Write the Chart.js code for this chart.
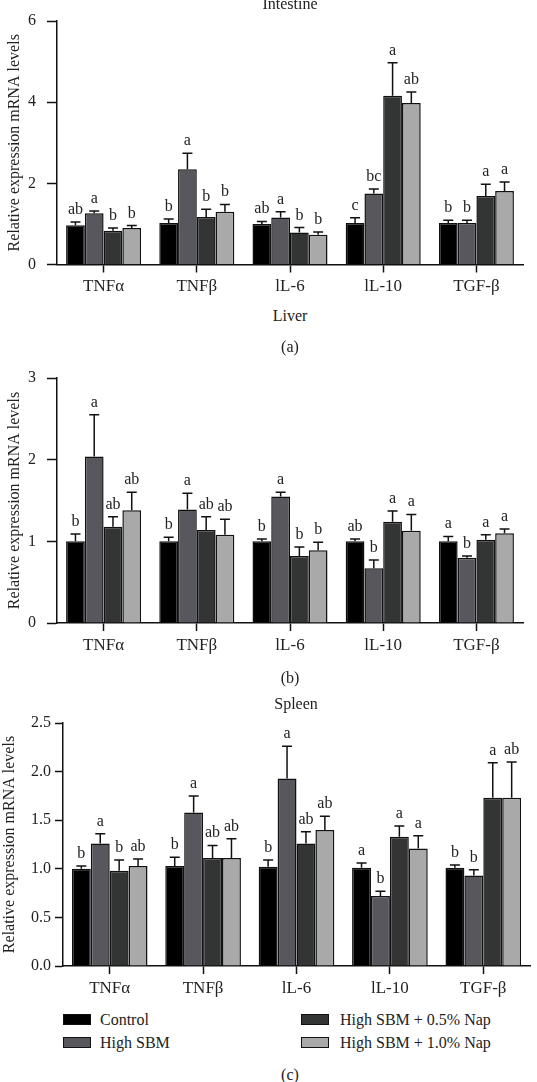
<!DOCTYPE html>
<html><head><meta charset="utf-8">
<script src="https://cdn.jsdelivr.net/npm/chart.js@4/dist/chart.umd.min.js"></script>
<style>
body{margin:0;width:537px;height:1082px;position:relative;background:#fff;font-family:"Liberation Serif",serif;color:#222;overflow:hidden}
canvas{position:absolute;left:0}
.t{position:absolute;font-size:16px;line-height:16px;white-space:nowrap;transform:translateX(-50%)}
.lg{position:absolute;font-size:16px;line-height:16px;white-space:nowrap}
.bx{position:absolute;width:26px;height:9px;border:1.5px solid #111}
</style></head>
<body>
<canvas id="c1" width="537" height="305" style="top:0px"></canvas>
<canvas id="c2" width="537" height="313" style="top:350px"></canvas>
<canvas id="c3" width="537" height="306" style="top:700px"></canvas>

<div class="t" style="left:290px;top:-4px">Intestine</div>
<div class="t" style="left:290px;top:308px">Liver</div>
<div class="t" style="left:290px;top:339px">(a)</div>
<div class="t" style="left:290px;top:670px">(b)</div>
<div class="t" style="left:296px;top:696px">Spleen</div>
<div class="t" style="left:290px;top:1067px">(c)</div>

<div class="bx" style="left:63px;top:1014px;background:#000"></div>
<div class="lg" style="left:100px;top:1012px">Control</div>
<div class="bx" style="left:63px;top:1037px;background:#58575e"></div>
<div class="lg" style="left:100px;top:1035px">High SBM</div>
<div class="bx" style="left:301px;top:1014px;background:#333534"></div>
<div class="lg" style="left:340px;top:1012px">High SBM + 0.5% Nap</div>
<div class="bx" style="left:301px;top:1037px;background:#a9a9a9"></div>
<div class="lg" style="left:340px;top:1035px">High SBM + 1.0% Nap</div>

<script>
// ---- data ----
const categories = ['TNFα', 'TNFβ', 'lL-6', 'lL-10', 'TGF-β'];
const seriesNames = ['Control', 'High SBM', 'High SBM + 0.5% Nap', 'High SBM + 1.0% Nap'];
const seriesColors = ['#000000', '#58575e', '#333534', '#a9a9a9'];

// Intestine
const intestineControl = [0.97, 1.02, 1.00, 1.02, 1.02];
const intestineHighSBM = [1.26, 2.35, 1.16, 1.75, 1.02];
const intestineNap05   = [0.83, 1.17, 0.79, 4.16, 1.69];
const intestineNap10   = [0.90, 1.30, 0.73, 3.98, 1.81];
const intestineControlSD = [0.08, 0.10, 0.06, 0.13, 0.07];
const intestineHighSBMSD = [0.06, 0.39, 0.14, 0.11, 0.07];
const intestineNap05SD   = [0.07, 0.19, 0.12, 0.81, 0.29];
const intestineNap10SD   = [0.06, 0.18, 0.07, 0.27, 0.22];
const intestineLetters = [['ab','b','ab','c','b'], ['a','a','a','bc','b'], ['b','b','b','a','a'], ['b','b','b','ab','a']];
const intestineTicks = [0, 2, 4, 6];

// Liver
const liverControl = [1.00, 1.00, 1.00, 1.00, 1.00];
const liverHighSBM = [2.04, 1.39, 1.55, 0.67, 0.80];
const liverNap05   = [1.18, 1.14, 0.82, 1.24, 1.02];
const liverNap10   = [1.38, 1.08, 0.89, 1.13, 1.10];
const liverControlSD = [0.09, 0.05, 0.03, 0.03, 0.06];
const liverHighSBMSD = [0.51, 0.20, 0.05, 0.10, 0.02];
const liverNap05SD   = [0.12, 0.16, 0.11, 0.13, 0.06];
const liverNap10SD   = [0.22, 0.19, 0.10, 0.20, 0.05];
const liverLetters = [['b','b','b','ab','a'], ['a','a','a','b','b'], ['ab','ab','b','a','a'], ['ab','ab','b','a','a']];
const liverTicks = [0, 1, 2, 3];

// Spleen
const spleenControl = [1.00, 1.03, 1.02, 1.01, 1.01];
const spleenHighSBM = [1.26, 1.58, 1.93, 0.72, 0.93];
const spleenNap05   = [0.98, 1.11, 1.26, 1.33, 1.73];
const spleenNap10   = [1.03, 1.11, 1.40, 1.21, 1.73];
const spleenControlSD = [0.03, 0.09, 0.07, 0.05, 0.03];
const spleenHighSBMSD = [0.10, 0.17, 0.33, 0.05, 0.06];
const spleenNap05SD   = [0.11, 0.13, 0.12, 0.11, 0.36];
const spleenNap10SD   = [0.07, 0.20, 0.14, 0.13, 0.37];
const spleenLetters = [['b','b','b','a','b'], ['a','a','a','b','b'], ['b','ab','ab','a','a'], ['ab','ab','ab','a','ab']];
const spleenTicks = [0, 0.5, 1.0, 1.5, 2.0, 2.5];

const FONT = '"Liberation Serif", serif';
const INK = '#222';

const errPlugin = {
  id: 'errLetters',
  afterDatasetsDraw(chart) {
    const ctx = chart.ctx, y = chart.scales.y;
    chart.data.datasets.forEach((ds, i) => {
      const meta = chart.getDatasetMeta(i);
      meta.data.forEach((bar, j) => {
        const v = ds.data[j], e = ds.sd[j];
        const yb = y.getPixelForValue(v), yt = y.getPixelForValue(v + e);
        ctx.save();
        ctx.strokeStyle = '#111'; ctx.lineWidth = 1.5;
        ctx.beginPath();
        ctx.moveTo(bar.x, yb); ctx.lineTo(bar.x, yt);
        ctx.moveTo(bar.x - 5, yt); ctx.lineTo(bar.x + 5, yt);
        ctx.stroke();
        ctx.fillStyle = INK; ctx.font = '16px ' + FONT;
        ctx.textAlign = 'center'; ctx.textBaseline = 'alphabetic';
        ctx.fillText(ds.letters[j], bar.x, yt - 8);
        ctx.restore();
      });
    });
  }
};

function makeChart(id, vals, sds, letters, ticks, o) {
  const datasets = vals.map((v, i) => ({
    label: seriesNames[i], data: v, sd: sds[i], letters: letters[i],
    backgroundColor: seriesColors[i], borderColor: '#111', borderWidth: 1.5,
    categoryPercentage: o.cat, barPercentage: 1.0
  }));
  return new Chart(document.getElementById(id), {
    type: 'bar',
    data: { labels: categories, datasets },
    plugins: [errPlugin],
    options: {
      responsive: false, animation: false, devicePixelRatio: 1,
      layout: { padding: { top: o.top, right: 537 - o.right, left: 0, bottom: 0 } },
      plugins: { legend: { display: false }, tooltip: { enabled: false } },
      scales: {
        x: {
          afterFit(s) { s.height = o.xh; },
          grid: { display: true, drawOnChartArea: false, drawTicks: true, tickLength: 8, tickColor: '#111', tickWidth: 1.5, offset: false },
          border: { display: true, color: '#111', width: 1.5 },
          ticks: { color: INK, font: { family: FONT, size: 17 }, padding: 4, maxRotation: 0 }
        },
        y: {
          min: ticks[0], max: ticks[ticks.length - 1],
          afterFit(s) { s.width = o.left; },
          afterBuildTicks(s) { s.ticks = ticks.map(v => ({ value: v })); },
          grid: { display: true, drawOnChartArea: false, drawTicks: true, tickLength: o.tl, tickColor: '#111', tickWidth: 1.5 },
          border: { display: true, color: '#111', width: 1.5 },
          ticks: { color: INK, font: { family: FONT, size: 16 }, padding: o.tp,
                   callback: v => o.dec ? Number(v).toFixed(1) : String(v) },
          title: { display: true, text: 'Relative expression mRNA levels', color: INK,
                   font: { family: FONT, size: 16 }, padding: { top: o.titlePad, bottom: 0 } }
        }
      }
    }
  });
}

makeChart('c1',
  [intestineControl, intestineHighSBM, intestineNap05, intestineNap10],
  [intestineControlSD, intestineHighSBMSD, intestineNap05SD, intestineNap10SD],
  intestineLetters, intestineTicks,
  { top: 21, right: 523, left: 57, xh: 40.5, cat: 0.805, tl: 10, tp: 11, titlePad: 5, dec: false });

makeChart('c2',
  [liverControl, liverHighSBM, liverNap05, liverNap10],
  [liverControlSD, liverHighSBMSD, liverNap05SD, liverNap10SD],
  liverLetters, liverTicks,
  { top: 28, right: 523, left: 57, xh: 40, cat: 0.805, tl: 10, tp: 11, titlePad: 5, dec: false });

makeChart('c3',
  [spleenControl, spleenHighSBM, spleenNap05, spleenNap10],
  [spleenControlSD, spleenHighSBMSD, spleenNap05SD, spleenNap10SD],
  spleenLetters, spleenTicks,
  { top: 23, right: 530, left: 63, xh: 40, cat: 0.81, tl: 8, tp: 4, titlePad: 0, dec: true });
</script>
</body></html>
